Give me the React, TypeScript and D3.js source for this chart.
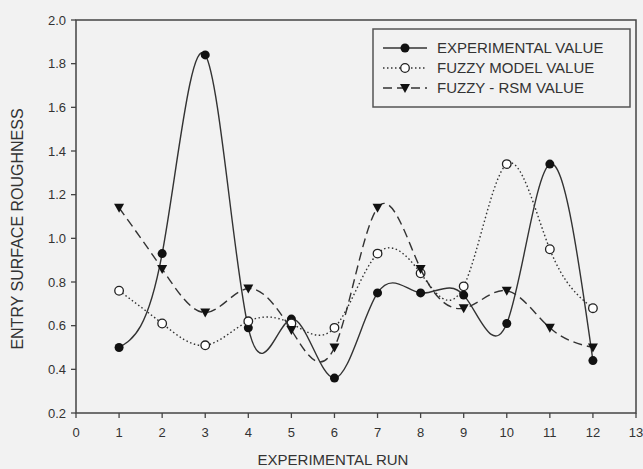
import React from 'react';
import * as d3 from 'd3';

const runs = [1, 2, 3, 4, 5, 6, 7, 8, 9, 10, 11, 12];
const experimental = [0.5, 0.93, 1.84, 0.59, 0.63, 0.36, 0.75, 0.75, 0.74, 0.61, 1.34, 0.44];
const fuzzyModel = [0.76, 0.61, 0.51, 0.62, 0.61, 0.59, 0.93, 0.84, 0.78, 1.34, 0.95, 0.68];
const fuzzyRsm = [1.14, 0.86, 0.66, 0.77, 0.58, 0.5, 1.14, 0.86, 0.68, 0.76, 0.59, 0.5];
const xTicks = d3.range(0, 14);
const yTicks = [0.2, 0.4, 0.6, 0.8, 1.0, 1.2, 1.4, 1.6, 1.8, 2.0];
const legendLabels = ['EXPERIMENTAL VALUE', 'FUZZY MODEL VALUE', 'FUZZY - RSM VALUE'];

const W = 643;
const H = 469;
const font = '"Liberation Sans", Arial, sans-serif';

const x = d3.scaleLinear().domain([0, 13]).range([76, 636]);
const y = d3.scaleLinear().domain([0.2, 2.0]).range([413, 20]);

const line = d3
  .line<number>()
  .x((_, i) => x(runs[i]))
  .y(d => y(d))
  .curve(d3.curveNatural);

const triangle = 'M-5,-4L5,-4L0,5Z';

// one entry per series: stroke style + marker type
const series = [
  { values: experimental, dash: 'none', marker: 'dot' },
  { values: fuzzyModel, dash: '1.5,2.5', marker: 'ring' },
  { values: fuzzyRsm, dash: '9,5', marker: 'tri' },
];

const Marker = ({ type, cx, cy }: { type: string; cx: number; cy: number }) => {
  if (type === 'dot') return <circle cx={cx} cy={cy} r={4.5} fill="#111" />;
  if (type === 'ring')
    return <circle cx={cx} cy={cy} r={4.3} fill="#fff" stroke="#222" strokeWidth={1.3} />;
  return <path d={triangle} transform={`translate(${cx},${cy})`} fill="#111" />;
};

export default function App() {
  return (
    <svg width={W} height={H} style={{ display: 'block', position: 'absolute', left: 0, top: 0 }}>
      <rect width={W} height={H} fill="#f2f2f2" />

      {/* frame */}
      <rect x={76} y={20} width={560} height={393} fill="none" stroke="#444" strokeWidth={1.5} />

      {/* y axis */}
      {yTicks.map(t => (
        <g key={t}>
          <line x1={71} x2={76} y1={y(t)} y2={y(t)} stroke="#444" strokeWidth={1.3} />
          <text x={66} y={y(t) + 4.5} textAnchor="end" fontSize={13} fontFamily={font} fill="#333">
            {t.toFixed(1)}
          </text>
        </g>
      ))}

      {/* x axis */}
      {xTicks.map(t => (
        <g key={t}>
          <line x1={x(t)} x2={x(t)} y1={413} y2={418} stroke="#444" strokeWidth={1.3} />
          <text x={x(t)} y={437} textAnchor="middle" fontSize={13} fontFamily={font} fill="#333">
            {t}
          </text>
        </g>
      ))}

      <text x={333} y={465} textAnchor="middle" fontSize={15} fontFamily={font} fill="#333">
        EXPERIMENTAL RUN
      </text>
      <text
        transform="translate(23,229) rotate(-90)"
        textAnchor="middle"
        fontSize={16}
        fontFamily={font}
        fill="#333"
      >
        ENTRY SURFACE ROUGHNESS
      </text>

      {/* series */}
      {series.map((s, si) => (
        <g key={si}>
          <path
            d={line(s.values) || ''}
            fill="none"
            stroke="#333"
            strokeWidth={1.4}
            strokeDasharray={s.dash}
          />
          {s.values.map((v, i) => (
            <Marker key={i} type={s.marker} cx={x(runs[i])} cy={y(v)} />
          ))}
        </g>
      ))}

      {/* legend */}
      <rect x={373} y={29} width={257} height={78} fill="#f2f2f2" stroke="#555" strokeWidth={1.5} />
      {series.map((s, i) => {
        const ly = 48 + i * 20;
        return (
          <g key={i}>
            <line x1={383} x2={427} y1={ly} y2={ly} stroke="#333" strokeWidth={1.4} strokeDasharray={s.dash} />
            <Marker type={s.marker} cx={405} cy={ly} />
            <text x={437} y={ly + 5} fontSize={15} fontFamily={font} fill="#333">
              {legendLabels[i]}
            </text>
          </g>
        );
      })}
    </svg>
  );
}
